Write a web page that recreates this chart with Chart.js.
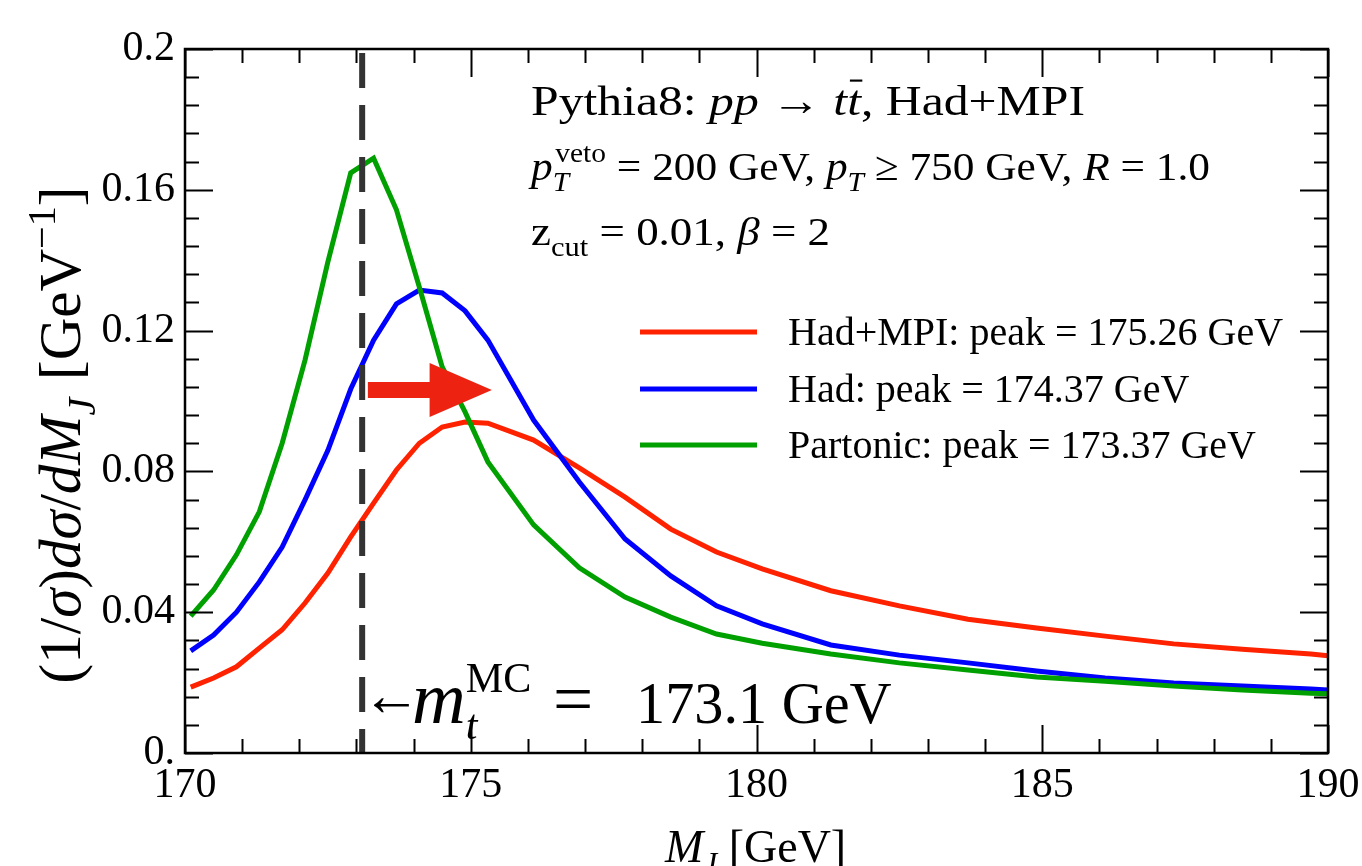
<!DOCTYPE html>
<html>
<head>
<meta charset="utf-8">
<script src="https://cdn.jsdelivr.net/npm/chart.js@4.4.1/dist/chart.umd.min.js"></script>
<style>
  body { margin: 0; background: #fff; }
  canvas { display: block; }
</style>
</head>
<body>
<canvas id="massChart" width="1362" height="866"></canvas>
<script>
// jet mass bins (GeV) and normalized distributions
const massGeV = [170.1, 170.5, 170.9, 171.3, 171.7, 172.1, 172.5, 172.9, 173.3, 173.7,
  174.1, 174.5, 174.9, 175.3, 176.1, 176.9, 177.7, 178.5, 179.3, 180.1,
  181.3, 182.5, 183.7, 184.9, 186.1, 187.3, 188.5, 189.7, 190.0];
const hadMpi = [0.0187, 0.0213, 0.0245, 0.0298, 0.035, 0.0426, 0.0511, 0.0614, 0.071, 0.0804,
  0.088, 0.0926, 0.094, 0.0937, 0.0889, 0.081, 0.0727, 0.0636, 0.0571, 0.0523,
  0.0461, 0.0418, 0.038, 0.0355, 0.0332, 0.031, 0.0295, 0.0281, 0.0276];
const had = [0.029, 0.0335, 0.040, 0.0486, 0.0585, 0.0719, 0.086, 0.1034, 0.1173, 0.1276,
  0.1315, 0.1307, 0.1256, 0.1173, 0.0946, 0.077, 0.0608, 0.0503, 0.0418, 0.0367,
  0.0307, 0.0278, 0.0256, 0.0233, 0.0213, 0.0199, 0.019, 0.0182, 0.0179];
const partonic = [0.0389, 0.0463, 0.0563, 0.0685, 0.088, 0.1116, 0.1395, 0.1648, 0.169, 0.1543,
  0.1324, 0.1097, 0.0969, 0.0827, 0.0648, 0.0526, 0.0443, 0.0386, 0.0338, 0.0312,
  0.0281, 0.0256, 0.0236, 0.0216, 0.0204, 0.019, 0.0179, 0.017, 0.0168];
const legendLabels = ['Had+MPI: peak = 175.26 GeV', 'Had: peak = 174.37 GeV', 'Partonic: peak = 173.37 GeV'];
const mtMC = 173.1;
const xMajor = [170, 175, 180, 185, 190];
const yMajor = [0, 0.04, 0.08, 0.12, 0.16, 0.2];

const RED = '#ff2200', BLUE = '#0000ff', GREEN = '#00a000';
const FONT = '"Liberation Serif", "DejaVu Serif", serif';

const pts = ys => massGeV.map((x, i) => ({ x: x, y: ys[i] }));

// draws pieces (roman / italic / sub / sup / stacked) left to right
function richPass(ctx, x, y, parts, size, draw) {
  let cx = x;
  parts.forEach(p => {
    if (p.at !== undefined) cx = p.at;
    if (p.gap) { cx += p.gap * size; return; }
    const base = size * (p.scale || 1);
    const small = p.sub || p.sup;
    const s = small ? base * 0.68 : base;
    ctx.font = (p.it ? 'italic ' : '') + s + 'px ' + FONT;
    const dy = (p.sub ? 0.26 * base : p.sup ? -0.42 * base : 0) + (p.dy || 0);
    if (draw) ctx.fillText(p.t, cx, y + dy);
    let w = ctx.measureText(p.t).width;
    if (p.bar && draw) {
      ctx.save();
      ctx.lineWidth = base * 0.05;
      ctx.beginPath();
      ctx.moveTo(cx + w * 0.2, y - base * 0.8);
      ctx.lineTo(cx + w * 1.1, y - base * 0.8);
      ctx.stroke();
      ctx.restore();
    }
    if (p.top) {
      ctx.font = (p.topIt ? 'italic ' : '') + ((p.topSize || base) * 0.68) + 'px ' + FONT;
      const tx = cx + (p.topShift || 0) * base;
      if (draw) ctx.fillText(p.top, tx, y - (p.topRise || 0.45) * base);
      w = Math.max(w, tx - cx + ctx.measureText(p.top).width);
    }
    cx += w;
  });
  return cx - x;
}

// optional target width: glyphs are stretched horizontally to fit it
function rich(ctx, x, y, parts, size, target) {
  const sx = target ? target / richPass(ctx, 0, 0, parts, size, false) : 1;
  ctx.save();
  ctx.translate(x, y);
  ctx.scale(sx, 1);
  richPass(ctx, 0, 0, parts, size, true);
  ctx.restore();
}

const decor = {
  id: 'decor',
  afterDatasetsDraw(chart) {
    const ctx = chart.ctx;
    const xs = chart.scales.x, ys = chart.scales.y;
    const a = chart.chartArea;

    // red shift arrow
    const x0 = xs.getPixelForValue(173.2), x1 = xs.getPixelForValue(174.28), tip = xs.getPixelForValue(175.37);
    const yc = ys.getPixelForValue(0.1031);
    ctx.save();
    ctx.fillStyle = '#ee2211';
    ctx.beginPath();
    ctx.moveTo(x0, yc - 8);
    ctx.lineTo(x1, yc - 8);
    ctx.lineTo(x1, yc - 27);
    ctx.lineTo(tip, yc);
    ctx.lineTo(x1, yc + 27);
    ctx.lineTo(x1, yc + 8);
    ctx.lineTo(x0, yc + 8);
    ctx.closePath();
    ctx.fill();
    ctx.restore();

    // frame and inward ticks on all four sides
    ctx.save();
    ctx.strokeStyle = '#000';
    ctx.lineWidth = 2;
    ctx.beginPath();
    for (let k = 0; k <= 20; k++) {
      const px = Math.round(xs.getPixelForValue(170 + k)) + 0.5;
      const len = k % 5 === 0 ? 28 : 14;
      ctx.moveTo(px, a.bottom); ctx.lineTo(px, a.bottom - len);
      ctx.moveTo(px, a.top); ctx.lineTo(px, a.top + len);
    }
    for (let k = 0; k <= 25; k++) {
      const py = Math.round(ys.getPixelForValue(k * 0.008)) + 0.5;
      const len = k % 5 === 0 ? 28 : 14;
      ctx.moveTo(a.left, py); ctx.lineTo(a.left + len, py);
      ctx.moveTo(a.right, py); ctx.lineTo(a.right - len, py);
    }
    ctx.stroke();
    ctx.lineWidth = 2.5;
    ctx.strokeRect(a.left, a.top, a.right - a.left, a.bottom - a.top);
    ctx.restore();
  },
  afterDraw(chart) {
    const ctx = chart.ctx;
    ctx.save();
    ctx.fillStyle = '#000';
    ctx.strokeStyle = '#000';
    ctx.textBaseline = 'alphabetic';
    ctx.textAlign = 'left';

    // header text
    rich(ctx, 531, 115, [
      { t: 'Pythia8: ' }, { t: 'pp', it: true }, { t: ' \u2192 ' },
      { t: 't', it: true }, { t: 't', it: true, bar: true }, { t: ', Had+MPI' }
    ], 43, 554);
    rich(ctx, 531, 180, [
      { t: 'p', it: true }, { t: 'T', it: true, sub: true, top: 'veto', topShift: 0.06 },
      { t: ' = 200 GeV, ' }, { t: 'p', it: true }, { t: 'T', it: true, sub: true },
      { t: ' \u2265 750 GeV, ' }, { t: 'R', it: true }, { t: ' = 1.0' }
    ], 41, 679);
    rich(ctx, 531, 245, [
      { t: 'z' }, { t: 'cut', sub: true }, { t: ' = 0.01, ' }, { t: '\u03b2', it: true }, { t: ' = 2' }
    ], 41, 299);

    // legend
    const colors = [RED, BLUE, GREEN];
    const rows = [332, 389, 445];
    legendLabels.forEach((lab, i) => {
      ctx.strokeStyle = colors[i];
      ctx.lineWidth = 5;
      ctx.beginPath();
      ctx.moveTo(640, rows[i]);
      ctx.lineTo(757, rows[i]);
      ctx.stroke();
      ctx.font = '40px ' + FONT;
      ctx.fillText(lab, 788, rows[i] + 13);
    });

    // top mass label
    rich(ctx, 0, 723, [
      { t: '\u2190', at: 362, scale: 0.95, dy: -8 },
      { t: 'm', it: true, at: 412, scale: 1.2 },
      { t: 't', it: true, sub: true, top: 'MC', topShift: 0.0, topSize: 62, topRise: 0.5 },
      { t: '=', at: 553, scale: 1.15 },
      { t: '173.1 GeV', at: 636, scale: 0.94 }
    ], 62);

    // x title
    rich(ctx, 665, 862, [{ t: 'M', it: true }, { t: 'J', it: true, sub: true }, { t: ' [GeV]' }], 46);

    // y title (rotated)
    const yParts = [
      { t: '(1/' }, { t: '\u03c3', it: true }, { t: ')' }, { t: 'd\u03c3', it: true }, { t: '/' },
      { t: 'dM', it: true }, { t: 'J', it: true, sub: true }, { gap: 0.05 }, { t: ' [GeV' },
      { t: '\u22121', sup: true }, { t: ']' }
    ];
    const w = richPass(ctx, 0, 0, yParts, 59, false);
    ctx.save();
    ctx.translate(80, 435 + w / 2);
    ctx.rotate(-Math.PI / 2);
    richPass(ctx, 0, 0, yParts, 59, true);
    ctx.restore();

    ctx.restore();
  }
};

const ctx = document.getElementById('massChart').getContext('2d');
const massChart = new Chart(ctx, {
  type: 'scatter',
  data: {
    datasets: [
      {
        label: 'mt',
        data: [{ x: mtMC, y: 0.2 }, { x: mtMC, y: 0 }],
        showLine: true,
        borderColor: '#333333',
        borderWidth: 6,
        borderDash: [35, 17],
        borderDashOffset: -4,
        pointRadius: 0
      },
      { label: 'Partonic', data: pts(partonic), showLine: true, borderColor: GREEN, borderWidth: 5, pointRadius: 0, tension: 0 },
      { label: 'Had', data: pts(had), showLine: true, borderColor: BLUE, borderWidth: 5, pointRadius: 0, tension: 0 },
      { label: 'Had+MPI', data: pts(hadMpi), showLine: true, borderColor: RED, borderWidth: 5, pointRadius: 0, tension: 0 }
    ]
  },
  options: {
    responsive: false,
    animation: false,
    layout: { padding: { left: 0, right: 34, top: 49, bottom: 0 } },
    plugins: { legend: { display: false }, tooltip: { enabled: false } },
    scales: {
      x: {
        type: 'linear', min: 170, max: 190,
        afterFit: s => { s.height = 113; s.paddingLeft = 0; s.paddingRight = 0; },
        afterBuildTicks: s => { s.ticks = xMajor.map(v => ({ value: v })); },
        grid: { display: false, drawTicks: false },
        border: { display: false },
        ticks: { padding: 8, color: '#000', font: { family: FONT, size: 42 }, maxRotation: 0 }
      },
      y: {
        type: 'linear', min: 0, max: 0.2,
        afterFit: s => { s.width = 185; s.paddingTop = 0; s.paddingBottom = 0; },
        afterBuildTicks: s => { s.ticks = yMajor.map(v => ({ value: v })); },
        grid: { display: false, drawTicks: false },
        border: { display: false },
        ticks: {
          padding: 10, color: '#000', font: { family: FONT, size: 42 },
          callback: v => v === 0 ? '0.' : String(Math.round(v * 100) / 100)
        }
      }
    }
  },
  plugins: [decor]
});
</script>
</body>
</html>
